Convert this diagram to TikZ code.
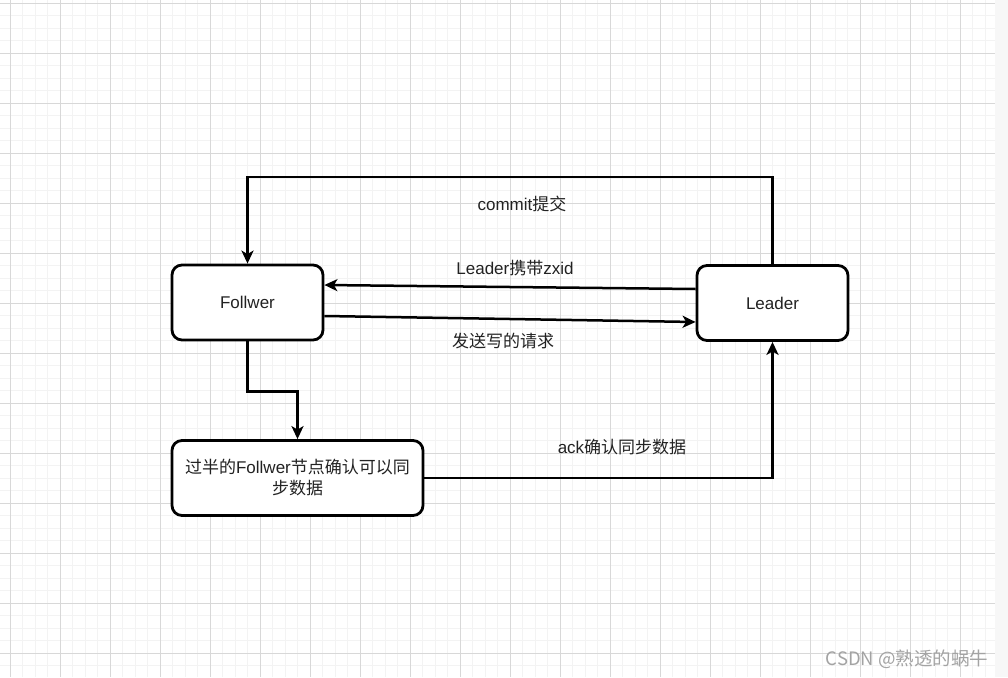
\documentclass[tikz,border=0pt]{standalone}
\usepackage{fontspec}
\setmainfont{Liberation Sans}
\newfontfamily\cjk{Noto Sans CJK SC}
\usepackage{xcolor}
\usepackage{tikz}
\usetikzlibrary{calc,arrows.meta,positioning}
\definecolor{gridmin}{HTML}{F3F3F3}
\definecolor{gridmaj}{HTML}{D8D8D8}
\definecolor{inkc}{HTML}{000000}
\definecolor{txtc}{HTML}{222222}
\definecolor{markc}{HTML}{A3A3A3}
\definecolor{barc}{HTML}{F7F7F7}
\tikzset{
  ar/.style={-{Stealth[length=13pt,width=12pt,inset=3.5pt]},line width=2.5pt,inkc},
  box/.style={draw=inkc,line width=2.8pt,rounded corners=10pt,fill=white,align=center,
    minimum width=151pt,minimum height=75pt,inner sep=2pt,text=txtc,
    font=\fontsize{17}{21}\selectfont},
  lbl/.style={text=txtc,font=\fontsize{17}{21}\selectfont,inner sep=0pt}
}
\begin{document}
\begin{tikzpicture}[x=1pt,y=-1pt]
\useasboundingbox (0,0) rectangle (1008,677);
\fill[white] (0,0) rectangle (1008,677);
% grid
\foreach \i in {0,...,81} \draw[gridmin,line width=1pt] ({-2.5+12.5*\i},0) -- ++(0,677);
\foreach \i in {0,...,55} \draw[gridmin,line width=1pt] (0,{-9.2+12.5*\i}) -- ++(1008,0);
\foreach \i in {0,...,20} \draw[gridmaj,line width=1pt] ({10+50*\i},0) -- ++(0,677);
\foreach \i in {0,...,13} \draw[gridmaj,line width=1pt] (0,{3.3+50*\i}) -- ++(1008,0);
\fill[barc] (995,0) rectangle (1008,677);

% boxes
\node[box] (follwer) at (247.5,302.5) {Follwer};
\node[box] (leader) at (772.5,303) {Leader};
\node[box,minimum width=251pt] (half) at (297.5,478)
  {{\cjk 过半的}Follwer{\cjk 节点确认可以同}\\{\cjk 步数据}};
\coordinate (commitlvl) at (0,177);

% connectors
\draw[ar] (leader.north) -- (leader.north |- commitlvl) -- (follwer.north |- commitlvl) -- (follwer.north);
\draw[ar] ([yshift=14pt]leader.west) -- ([yshift=17.5pt]follwer.east);
\draw[ar] ([yshift=-13.5pt]follwer.east) -- ([yshift=-19pt]leader.west);
\draw[ar] (follwer.south) -- ++(0,50) -| (half.north);
\draw[ar] (half.east) -| (leader.south);

% labels
\node[lbl] (commitlbl) at (522,204) {commit{\cjk 提交}};
\node[lbl] (zxidlbl) at (515,268) {Leader{\cjk 携带}zxid};
\node[lbl] (reqlbl) at (503,341) {\cjk 发送写的请求};
\node[lbl] (acklbl) at (622,447) {ack{\cjk 确认同步数据}};
\node[lbl,text=markc,font=\cjk\fontsize{18.5}{22}\selectfont] (mark) at (907,659) {CSDN @熟透的蜗牛};
\end{tikzpicture}
\end{document}
